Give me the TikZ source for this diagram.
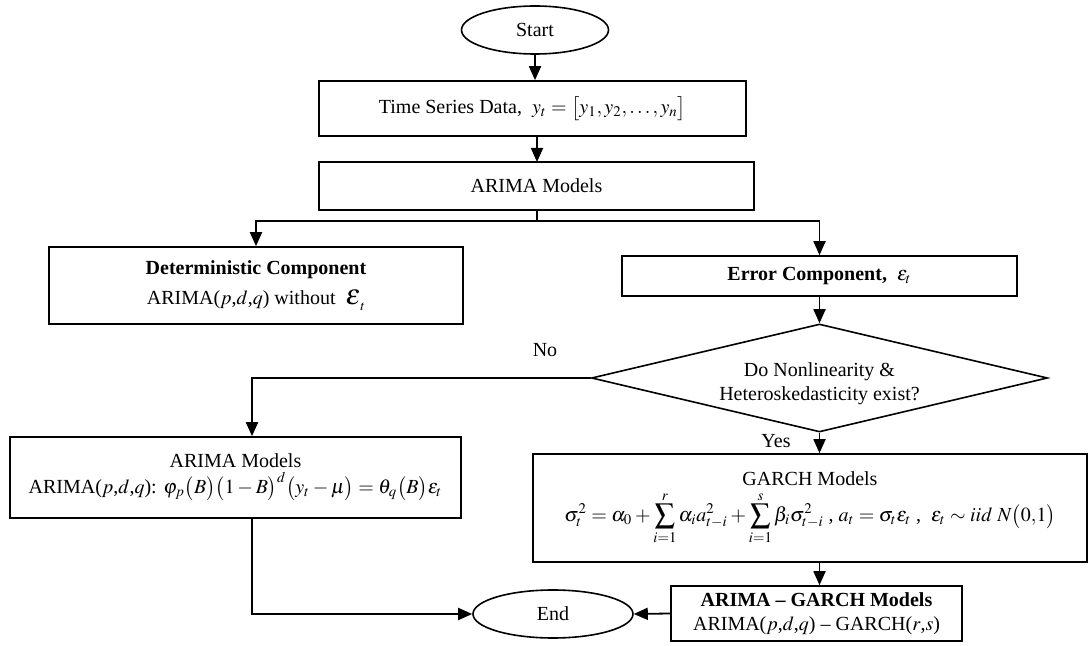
\documentclass[tikz,border=0pt]{standalone}
\usepackage{mathptmx}
\usepackage{fontspec}
\setmainfont{Liberation Serif}
\usetikzlibrary{shapes.geometric,arrows.meta}
\begin{document}
\begin{tikzpicture}[x=0.5pt,y=-0.5pt,
  every node/.style={font=\fontsize{10}{12}\selectfont, inner sep=0pt},
  boxnode/.style={draw, line width=0.8pt, rectangle, align=center},
  ovalnode/.style={draw, line width=0.8pt, ellipse},
  decnode/.style={draw, line width=0.8pt, diamond, aspect=4.2, align=center},
  flow/.style={line width=0.9pt, -{Triangle[length=7pt,width=6pt]}},
  plain/.style={line width=0.9pt},
  lbl/.style={font=\fontsize{10}{12}\selectfont}]
\useasboundingbox (0,0) rectangle (1089,646);

\node[ovalnode, minimum width=73.5pt, minimum height=24pt] (start) at (535,30) {Start};
\node[boxnode, minimum width=213.5pt, minimum height=27.5pt] (ts) at (532.5,108.5)
  {Time Series Data,\ \ $y_t=\bigl[y_1,y_2,\ldots,y_n\bigr]$};
\node[boxnode, minimum width=217.5pt, minimum height=24pt] (arima) at (536.5,186) {ARIMA Models};
\node[boxnode, minimum width=207pt, minimum height=38.5pt] (det) at (256,285.5)
  {\textbf{Deterministic Component}\\[3pt]
   ARIMA($p$,$d$,$q$) without\ \ {\Large$\varepsilon$}\raisebox{-3pt}{\scriptsize$t$}};
\node[boxnode, minimum width=197.5pt, minimum height=20pt] (err) at (819.5,276)
  {\textbf{Error Component,}\ \ $\varepsilon_t$};
\node[decnode, minimum width=228pt, minimum height=54pt] (dia) at (819.5,378) {};
\node[lbl, align=center] (diatext) at (819.5,384)
  {Do Nonlinearity \&\\Heteroskedasticity exist?};
\node[boxnode, minimum width=225.5pt, minimum height=40.5pt] (arima2) at (235.5,477.5)
  {ARIMA Models\\[1pt]
   ARIMA($p$,$d$,$q$): $\varphi_p\bigl(B\bigr)\bigl(1-B\bigr)^d\bigl(y_t-\mu\bigr)=\theta_q\bigl(B\bigr)\varepsilon_t$};
\node[boxnode, minimum width=277pt, minimum height=54pt] (garch) at (810,508)
  {GARCH Models\\[2pt]
   $\displaystyle\sigma_t^2=\alpha_0+\sum_{i=1}^{r}\alpha_i a_{t-i}^2+\sum_{i=1}^{s}\beta_i\sigma_{t-i}^2$ ,
   $a_t=\sigma_t\varepsilon_t$ ,\ \ $\varepsilon_t\sim iid\ N\bigl(0{,}1\bigr)$};
\node[boxnode, minimum width=145.5pt, minimum height=27.5pt] (ag) at (816.5,613.5)
  {\textbf{ARIMA -- GARCH Models}\\
   ARIMA($p$,$d$,$q$) -- GARCH($r$,$s$)};
\node[ovalnode, minimum width=80pt, minimum height=24pt] (end) at (553,614) {End};

\node[lbl] (no) at (545,350) {No};
\node[lbl] (yes) at (776,441) {Yes};

\coordinate (jn) at (537,221);
\coordinate (nl) at (252,378);
\coordinate (bl) at (252,614);

\draw[flow] (start.south) -- (start.south |- ts.north);
\draw[flow] (537,136) -- (537,162);
\draw[plain] (537,210) -- (jn);
\draw[flow] (jn) -| (det.north);
\draw[flow] (jn) -| (err.north);
\draw[flow] (err.south) -- (dia.north);
\draw[flow] (dia.west) -- (nl) -- (nl |- arima2.north);
\draw[flow] (dia.south) -- (garch.north -| dia.south);
\draw[flow] (garch.south -| dia.south) -- (ag.north -| dia.south);
\draw[flow] (ag.west) -- (end.east);
\draw[flow] (nl |- arima2.south) -- (bl) -- (end.west);
\end{tikzpicture}
\end{document}
